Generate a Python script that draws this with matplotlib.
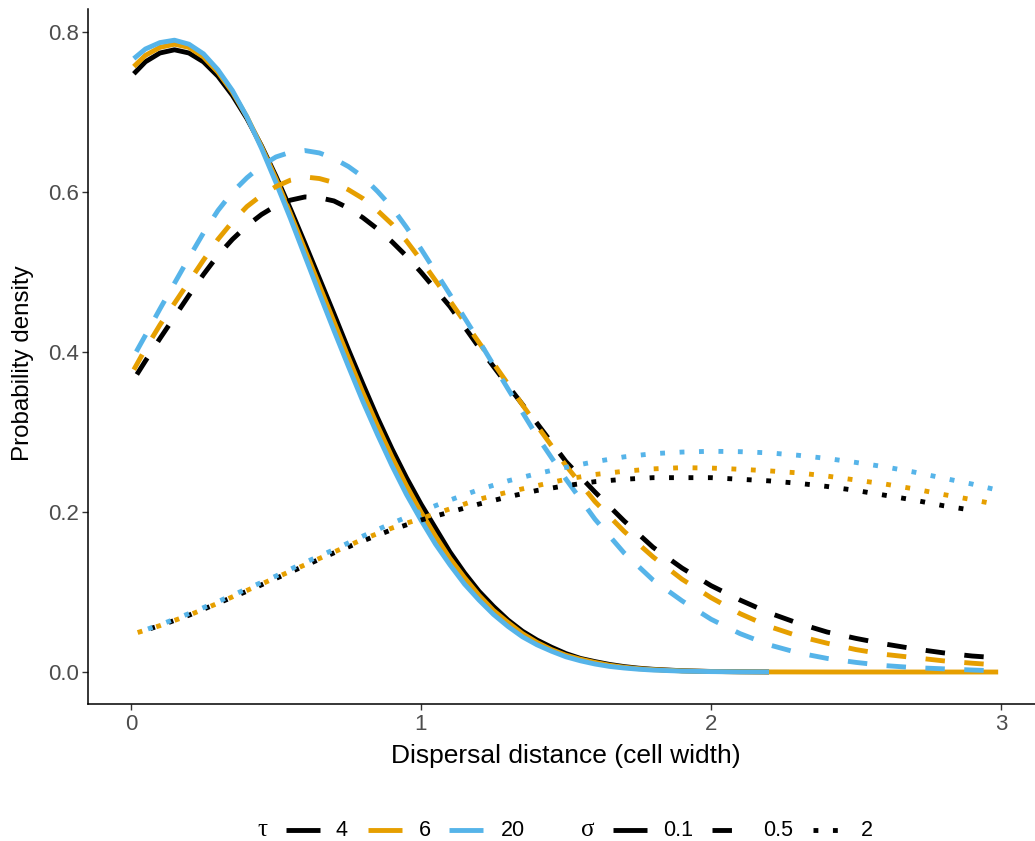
import matplotlib
matplotlib.use('Agg')
import matplotlib.pyplot as plt
from matplotlib.lines import Line2D

plt.rcParams['font.family'] = ['Liberation Sans', 'DejaVu Sans']

W, H = 1035, 841

# dispersal kernel parameters
taus = [4, 6, 20]
sigmas = [0.1, 0.5, 2]
tau_colors = ['#000000', '#E69F00', '#56B4E9']
sigma_styles = ['-', (0, (4, 4)), (0, (1, 3))]

# sigma = 0.1
dist_s01 = [0.01, 0.05, 0.10, 0.15, 0.20, 0.25, 0.30, 0.35, 0.40, 0.45,
            0.50, 0.55, 0.60, 0.65, 0.70, 0.75, 0.80, 0.85, 0.90, 0.95,
            1.00, 1.05, 1.10, 1.15, 1.20, 1.25, 1.30, 1.35, 1.40, 1.45,
            1.50, 1.55, 1.60, 1.65, 1.70, 1.75, 1.80, 1.90, 2.00, 2.10, 2.20]
dist_s01_long = dist_s01 + [2.40, 2.60, 2.80, 2.99]
dens_t4_s01 = [0.748, 0.763, 0.774, 0.778, 0.774, 0.763, 0.745, 0.721, 0.692, 0.658,
               0.620, 0.579, 0.536, 0.492, 0.448, 0.403, 0.360, 0.318, 0.279, 0.243,
               0.210, 0.180, 0.150, 0.124, 0.101, 0.082, 0.065, 0.051, 0.040, 0.031,
               0.023, 0.017, 0.013, 0.0095, 0.0068, 0.0048, 0.0034, 0.0016, 0.0007, 0.0003, 0.0001]
dens_t6_s01 = [0.757, 0.771, 0.781, 0.785, 0.781, 0.769, 0.750, 0.725, 0.694, 0.657,
               0.617, 0.573, 0.528, 0.483, 0.438, 0.393, 0.349, 0.308, 0.269, 0.233,
               0.200, 0.170, 0.142, 0.118, 0.096, 0.077, 0.062, 0.048, 0.037, 0.028,
               0.021, 0.016, 0.012, 0.0085, 0.006, 0.0042, 0.003, 0.0014, 0.0006, 0.0003, 0.0001,
               0.0, 0.0, 0.0, 0.0]
dens_t20_s01 = [0.767, 0.779, 0.787, 0.790, 0.785, 0.773, 0.753, 0.727, 0.694, 0.655,
                0.612, 0.567, 0.520, 0.473, 0.427, 0.382, 0.338, 0.297, 0.258, 0.222,
                0.190, 0.160, 0.134, 0.110, 0.090, 0.072, 0.057, 0.044, 0.034, 0.026,
                0.019, 0.014, 0.010, 0.007, 0.005, 0.0035, 0.0024, 0.0011, 0.0005, 0.0002, 0.0001]

# sigma = 0.5
dist_s05 = [0.01, 0.05, 0.10, 0.15, 0.20, 0.25, 0.30, 0.35, 0.40, 0.45,
            0.50, 0.55, 0.60, 0.65, 0.70, 0.75, 0.80, 0.85, 0.90, 0.95,
            1.0, 1.1, 1.2, 1.3, 1.4, 1.5, 1.6, 1.7, 1.8, 1.9,
            2.0, 2.1, 2.2, 2.3, 2.4, 2.5, 2.6, 2.7, 2.8, 2.9, 2.94]
dens_t4_s05 = [0.366, 0.389, 0.417, 0.444, 0.471, 0.497, 0.521, 0.541, 0.558, 0.572,
               0.583, 0.590, 0.594, 0.593, 0.589, 0.580, 0.568, 0.554, 0.538, 0.520,
               0.500, 0.457, 0.406, 0.358, 0.311, 0.263, 0.225, 0.189, 0.156, 0.130,
               0.108, 0.090, 0.074, 0.061, 0.050, 0.042, 0.035, 0.029, 0.024, 0.020, 0.019]
dens_t6_s05 = [0.378, 0.404, 0.434, 0.461, 0.488, 0.515, 0.541, 0.563, 0.582, 0.596,
               0.607, 0.615, 0.619, 0.617, 0.612, 0.603, 0.592, 0.577, 0.560, 0.539,
               0.515, 0.464, 0.412, 0.360, 0.308, 0.258, 0.213, 0.176, 0.144, 0.116,
               0.093, 0.073, 0.057, 0.045, 0.036, 0.028, 0.022, 0.018, 0.014, 0.011, 0.010]
dens_t20_s05 = [0.395, 0.421, 0.454, 0.486, 0.518, 0.549, 0.577, 0.600, 0.618, 0.633,
                0.644, 0.650, 0.652, 0.649, 0.642, 0.632, 0.619, 0.601, 0.581, 0.556,
                0.529, 0.472, 0.414, 0.354, 0.295, 0.241, 0.191, 0.149, 0.115, 0.089,
                0.066, 0.048, 0.034, 0.024, 0.017, 0.012, 0.008, 0.0055, 0.004, 0.0025, 0.002]

# sigma = 2
dist_t4_s2 = [0.02, 0.1, 0.2, 0.3, 0.4, 0.5, 0.6, 0.7, 0.8, 0.9,
              1.0, 1.1, 1.2, 1.3, 1.4, 1.5, 1.6, 1.7, 1.8, 1.9,
              2.0, 2.1, 2.2, 2.3, 2.4, 2.5, 2.6, 2.7, 2.8, 2.87]
dist_t6_s2 = [0.02, 0.1, 0.2, 0.3, 0.4, 0.5, 0.6, 0.7, 0.8, 0.9,
              1.0, 1.1, 1.2, 1.3, 1.4, 1.5, 1.6, 1.7, 1.8, 1.9,
              2.0, 2.1, 2.2, 2.3, 2.4, 2.5, 2.6, 2.7, 2.8, 2.9, 2.95]
dist_t20_s2 = [0.02, 0.1, 0.2, 0.3, 0.4, 0.5, 0.6, 0.7, 0.8, 0.9,
               1.0, 1.1, 1.2, 1.3, 1.4, 1.5, 1.6, 1.7, 1.8, 1.9,
               2.0, 2.1, 2.2, 2.3, 2.4, 2.5, 2.6, 2.7, 2.8, 2.9, 2.97]
dens_t4_s2 = [0.049, 0.058, 0.071, 0.086, 0.101, 0.117, 0.133, 0.149, 0.164, 0.178,
              0.190, 0.200, 0.210, 0.219, 0.227, 0.233, 0.238, 0.241, 0.243, 0.243,
              0.243, 0.241, 0.239, 0.236, 0.232, 0.227, 0.221, 0.215, 0.208, 0.204]
dens_t6_s2 = [0.049, 0.058, 0.071, 0.086, 0.102, 0.118, 0.134, 0.150, 0.166, 0.180,
              0.192, 0.204, 0.216, 0.225, 0.233, 0.241, 0.247, 0.251, 0.254, 0.2555,
              0.255, 0.2535, 0.2515, 0.249, 0.245, 0.240, 0.235, 0.229, 0.222, 0.2155, 0.212]
dens_t20_s2 = [0.049, 0.059, 0.073, 0.088, 0.104, 0.120, 0.137, 0.153, 0.170, 0.186,
               0.201, 0.215, 0.228, 0.239, 0.248, 0.256, 0.263, 0.269, 0.273, 0.275,
               0.276, 0.2755, 0.274, 0.271, 0.267, 0.262, 0.2565, 0.250, 0.2425, 0.235, 0.229]

# (tau index, sigma index, distances, densities)
curves = [
    (0, 0, dist_s01, dens_t4_s01),
    (1, 0, dist_s01_long, dens_t6_s01),
    (2, 0, dist_s01, dens_t20_s01),
    (0, 1, dist_s05, dens_t4_s05),
    (1, 1, dist_s05, dens_t6_s05),
    (2, 1, dist_s05, dens_t20_s05),
    (0, 2, dist_t4_s2, dens_t4_s2),
    (1, 2, dist_t6_s2, dens_t6_s2),
    (2, 2, dist_t20_s2, dens_t20_s2),
]

LW = 3.5

fig = plt.figure(figsize=(W / 100, H / 100), dpi=100)
ax = fig.add_axes([88 / W, (H - 703.6) / H, (1044 - 88) / W, (703.6 - 9) / H])

for ti, si, dist, dens in curves:
    # drawn from the far end so the dash pattern starts at the tail
    ax.plot(dist[::-1], dens[::-1], color=tau_colors[ti], linestyle=sigma_styles[si],
            linewidth=LW, solid_capstyle='butt', dash_capstyle='butt')

ax.set_xlim(-0.148, 3.148)
ax.set_ylim(-0.0395, 0.829)
ax.set_xticks([0, 1, 2, 3])
ax.set_yticks([0.0, 0.2, 0.4, 0.6, 0.8])
ax.set_yticklabels(['0.0', '0.2', '0.4', '0.6', '0.8'])

for side in ['top', 'right']:
    ax.spines[side].set_visible(False)
for side in ['left', 'bottom']:
    ax.spines[side].set_linewidth(1.1)
    ax.spines[side].set_color('black')

ax.tick_params(axis='both', length=4.0, width=1.0, color='#333333',
               labelcolor='#4D4D4D', labelsize=16)
ax.tick_params(axis='y', pad=2.5)
ax.tick_params(axis='x', pad=3.5)

ax.set_xlabel('Dispersal distance (cell width)', fontsize=19)
ax.set_ylabel('Probability density', fontsize=17.4)
ax.xaxis.set_label_coords(0.5, -0.058)
ax.yaxis.set_label_coords(-0.057, 0.49)


def fpos(x, y):
    return x / W, 1 - y / H


# legend along the bottom: colour for tau, line type for sigma
leg_y = 830
tx, ty = fpos(262, leg_y)
fig.text(tx, ty, 'τ', ha='center', va='center', fontsize=18, family='Liberation Serif')
tx, ty = fpos(588, leg_y)
fig.text(tx, ty, 'σ', ha='center', va='center', fontsize=18, family='Liberation Serif')

tau_keys = [(286, 320, 342), (368, 402, 425), (449, 483, 513)]
for (k0, k1, lx), tau, col in zip(tau_keys, taus, tau_colors):
    x0, y0 = fpos(k0, leg_y)
    x1, _ = fpos(k1, leg_y)
    fig.add_artist(Line2D([x0, x1], [y0, y0], transform=fig.transFigure, color=col,
                          linewidth=LW, solid_capstyle='butt'))
    lxf, lyf = fpos(lx, leg_y)
    fig.text(lxf, lyf, str(tau), ha='center', va='center', fontsize=15.5)

sigma_keys = [(613, 647, 678), (712, 746, 778), (813, 847, 867)]
for (k0, k1, lx), sig, ls in zip(sigma_keys, sigmas, sigma_styles):
    x0, y0 = fpos(k0, leg_y)
    x1, _ = fpos(k1, leg_y)
    fig.add_artist(Line2D([x0, x1], [y0, y0], transform=fig.transFigure, color='black',
                          linewidth=LW, linestyle=ls, solid_capstyle='butt',
                          dash_capstyle='butt'))
    lxf, lyf = fpos(lx, leg_y)
    fig.text(lxf, lyf, str(sig), ha='center', va='center', fontsize=15.5)

fig.savefig('out.png', dpi=100)
